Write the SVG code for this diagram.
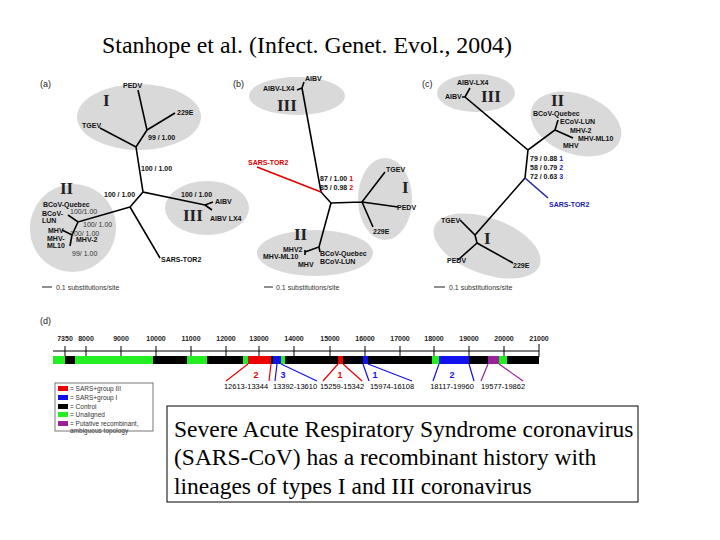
<svg xmlns="http://www.w3.org/2000/svg" width="720" height="540" viewBox="0 0 720 540">
<style>
.t{font-family:"Liberation Sans",Arial,sans-serif;font-size:7px;font-weight:bold;fill:#111}
.p{font-family:"Liberation Sans",Arial,sans-serif;font-size:9px;fill:#222}
.r{font-family:"Liberation Serif","Times New Roman",serif;font-size:17px;font-weight:bold;fill:#222}
.e{fill:#d9d9d9}
.b{stroke:#000;stroke-width:1.6;fill:none}
.s{font-family:"Liberation Sans",Arial,sans-serif;font-size:7px;fill:#333}
.n{font-family:"Liberation Sans",Arial,sans-serif;font-size:7.5px;fill:#000}
.big{font-family:"Liberation Serif","Times New Roman",serif;font-size:23.5px;fill:#000}
</style>
<rect width="720" height="540" fill="#fff"/>
<text class="big" x="102" y="53" textLength="410" lengthAdjust="spacingAndGlyphs">Stanhope et al. (Infect. Genet. Evol., 2004)</text>

<g id="panel-a">
<text class="p" x="40" y="87">(a)</text>
<ellipse class="e" cx="139" cy="117" rx="62" ry="33"/>
<ellipse class="e" cx="73" cy="228" rx="43" ry="44" transform="rotate(20 73 228)"/>
<ellipse class="e" cx="207" cy="208" rx="42" ry="27"/>
<path class="b" d="M100 128L136 147L147 130L138 90M147 130L175 113M136 147L143 192L205 205L213 202M205 205L212 210M143 192L130 207L160 258M130 207L78 222L68 215M78 222L72 235L62 230M72 235L70 246"/>
<text class="r" x="103" y="106">I</text><text class="r" x="60" y="194">II</text><text class="r" x="183" y="221">III</text>
<text class="t" x="123" y="88">PEDV</text><text class="t" x="177" y="115">229E</text><text class="t" x="82" y="128">TGEV</text>
<text class="t" x="148" y="140">99 / 1.00</text><text class="t" x="141" y="171">100 / 1.00</text>
<text class="t" x="104" y="197">100 / 1.00</text><text class="t" x="181" y="197">100 / 1.00</text>
<text class="t" x="215" y="204">AIBV</text><text class="t" x="210" y="221">AIBV LX4</text>
<text class="t" x="43" y="207">BCoV-Quebec</text><text class="t" x="42" y="216">BCoV-</text><text class="t" x="42" y="223">LUN</text>
<text class="s" x="70" y="214">100/1.00</text><text class="s" x="83" y="227">100/ 1.00</text><text class="s" x="70" y="236">100/ 1.00</text>
<text class="t" x="48" y="233">MHV</text><text class="t" x="47" y="241">MHV-</text><text class="t" x="47" y="248">ML10</text><text class="t" x="76" y="242">MHV-2</text>
<text class="s" x="72" y="256">99/ 1.00</text>
<text class="t" x="161" y="262">SARS-TOR2</text>
<path d="M42 287H52" stroke="#444" stroke-width="1.2"/><text class="s" x="56" y="290">0.1 substitutions/site</text>
</g>

<g id="panel-b">
<text class="p" x="233" y="87">(b)</text>
<ellipse class="e" cx="297" cy="96" rx="48" ry="19"/>
<ellipse class="e" cx="385" cy="199" rx="27" ry="41"/>
<ellipse class="e" cx="315" cy="253" rx="58" ry="23"/>
<path class="b" d="M297 90L302 88L304 82M302 88L321 192L331 203L362 202L385 172M362 202L398 207M362 202L373 227M331 203L319 247L305 252M305 250V255M319 247L320 252"/>
<path d="M257 167L321 192" stroke="#d00" stroke-width="1.6"/>
<text class="r" x="277" y="111">III</text><text class="r" x="402" y="193">I</text><text class="r" x="294" y="240">II</text>
<text class="t" x="263" y="91">AIBV-LX4</text><text class="t" x="305" y="81">AIBV</text>
<text class="t" x="248" y="165" style="fill:#d00">SARS-TOR2</text>
<text class="t" x="320" y="181">87 / 1.00 <tspan style="fill:#d00">1</tspan></text>
<text class="t" x="320" y="190">85 / 0.98 <tspan style="fill:#d00">2</tspan></text>
<text class="t" x="386" y="172">TGEV</text><text class="t" x="397" y="210">PEDV</text><text class="t" x="373" y="234">229E</text>
<text class="t" x="283" y="252">MHV2</text><text class="t" x="263" y="259">MHV-ML10</text><text class="t" x="298" y="267">MHV</text>
<text class="t" x="320" y="256">BCoV-Quebec</text><text class="t" x="320" y="264">BCoV-LUN</text>
<path d="M264 287H273" stroke="#444" stroke-width="1.2"/><text class="s" x="276" y="290">0.1 substitutions/site</text>
</g>

<g id="panel-c">
<text class="p" x="422" y="87">(c)</text>
<ellipse class="e" cx="476" cy="93" rx="39" ry="19"/>
<ellipse class="e" cx="576" cy="124" rx="47" ry="30" transform="rotate(20 576 124)"/>
<ellipse class="e" cx="487" cy="246" rx="56" ry="28" transform="rotate(20 487 246)"/>
<path class="b" d="M462 97L465 97L470 88M465 97L528 150L555 130L558 120M555 130L573 138M528 150L525 178L475 235L460 220M475 235L477 243L458 260M477 243L513 263"/>
<path d="M525 178L548 198" stroke="#22a" stroke-width="1.6"/>
<text class="r" x="481" y="102">III</text><text class="r" x="551" y="106">II</text><text class="r" x="484" y="244">I</text>
<text class="t" x="457" y="85">AIBV-LX4</text><text class="t" x="445" y="99">AIBV</text>
<text class="t" x="533" y="116">BCoV-Quebec</text><text class="t" x="560" y="124">ECoV-LUN</text>
<text class="t" x="570" y="133">MHV-2</text><text class="t" x="578" y="141">MHV-ML10</text><text class="t" x="563" y="148">MHV</text>
<text class="t" x="530" y="161">79 / 0.88 <tspan style="fill:#22a">1</tspan></text>
<text class="t" x="530" y="170">58 / 0.79 <tspan style="fill:#22a">2</tspan></text>
<text class="t" x="530" y="179">72 / 0.63 <tspan style="fill:#22a">3</tspan></text>
<text class="t" x="549" y="207" style="fill:#22a">SARS-TOR2</text>
<text class="t" x="441" y="223">TGEV</text><text class="t" x="447" y="263">PEDV</text><text class="t" x="513" y="268">229E</text>
<path d="M434 287H445" stroke="#444" stroke-width="1.2"/><text class="s" x="449" y="290">0.1 substitutions/site</text>
</g>

<g id="panel-d">
<text class="p" x="40" y="324">(d)</text>
<g class="s" style="font-weight:bold;fill:#222" text-anchor="middle">
<text x="65" y="341">7350</text><text x="86" y="341">8000</text><text x="121" y="341">9000</text><text x="156" y="341">10000</text><text x="191" y="341">11000</text><text x="226" y="341">12000</text><text x="259" y="341">13000</text><text x="294" y="341">14000</text><text x="330" y="341">15000</text><text x="365" y="341">16000</text><text x="400" y="341">17000</text><text x="434" y="341">18000</text><text x="469" y="341">19000</text><text x="504" y="341">20000</text><text x="539" y="341">21000</text>
</g>
<path d="M53 351H539M65 346V357M86 346V357M121 346V357M156 346V357M191 346V357M226 346V357M259 346V357M294 346V357M330 346V357M365 346V357M400 346V357M434 346V357M469 346V357M504 346V357M539 344V357" stroke="#000" stroke-width="1"/>
<rect x="53" y="356" width="486" height="8" fill="#000"/>
<g>
<rect x="53" y="356" width="12" height="8" fill="#2e2"/>
<rect x="75" y="356" width="78" height="8" fill="#2e2"/>
<rect x="187" y="356" width="20" height="8" fill="#2e2"/>
<rect x="243" y="356" width="5" height="8" fill="#2e2"/>
<rect x="248" y="356" width="23" height="8" fill="#e00"/>
<rect x="273" y="356" width="8" height="8" fill="#11e"/>
<rect x="281" y="356" width="4" height="8" fill="#2e2"/>
<rect x="338" y="356" width="5" height="8" fill="#e00"/>
<rect x="363" y="356" width="5" height="8" fill="#11e"/>
<rect x="432" y="356" width="7" height="8" fill="#2e2"/>
<rect x="439" y="356" width="30" height="8" fill="#11e"/>
<rect x="488" y="356" width="11" height="8" fill="#929"/>
<rect x="499" y="356" width="8" height="8" fill="#2e2"/>
</g>
<g stroke-width="1.2" fill="none">
<path d="M248 364L226 381M271 364L269 381" stroke="#e00"/>
<path d="M277 364L275 381M281 364L317 381" stroke="#11e"/>
<path d="M338 364L323 381M343 364L362 381" stroke="#e00"/>
<path d="M363 364L369 381M368 364L412 381" stroke="#11e"/>
<path d="M439 364L433 381M469 364L474 381" stroke="#11e"/>
<path d="M488 364L481 381M499 364L523 381" stroke="#929"/>
</g>
<g class="t" style="font-size:9px" text-anchor="middle">
<text x="256" y="378" style="fill:#e00">2</text><text x="283" y="378" style="fill:#11e">3</text><text x="340" y="378" style="fill:#e00">1</text><text x="375" y="378" style="fill:#11e">1</text><text x="452" y="378" style="fill:#11e">2</text>
</g>
<g class="n" text-anchor="middle">
<text x="246" y="389">12613-13344</text><text x="295" y="389">13392-13610</text><text x="342" y="389">15259-15342</text><text x="392" y="389">15974-16108</text><text x="452" y="389">18117-19960</text><text x="503" y="389">19577-19862</text>
</g>
<rect x="55" y="383" width="98" height="48" fill="#fff" stroke="#555" stroke-width="0.8"/>
<g class="s" style="font-size:6.5px">
<rect x="58" y="386" width="10" height="5" fill="#e00"/><text x="70" y="391">= SARS+group III</text>
<rect x="58" y="395" width="10" height="5" fill="#11e"/><text x="70" y="400">= SARS+group I</text>
<rect x="58" y="404" width="10" height="5" fill="#000"/><text x="70" y="409">= Control</text>
<rect x="58" y="412" width="10" height="5" fill="#2e2"/><text x="70" y="417">= Unaligned</text>
<rect x="58" y="421" width="10" height="5" fill="#929"/><text x="70" y="426">= Putative recombinant,</text><text x="70" y="433">ambiguous topology</text>
</g>
</g>

<g id="caption">
<rect x="167" y="406" width="471" height="96" fill="#fff" stroke="#000" stroke-width="1"/>
<text class="big" x="174" y="437">Severe Acute Respiratory Syndrome coronavirus</text>
<text class="big" x="174" y="465">(SARS-CoV) has a recombinant history with</text>
<text class="big" x="174" y="494">lineages of types I and III coronavirus</text>
</g>
</svg>
